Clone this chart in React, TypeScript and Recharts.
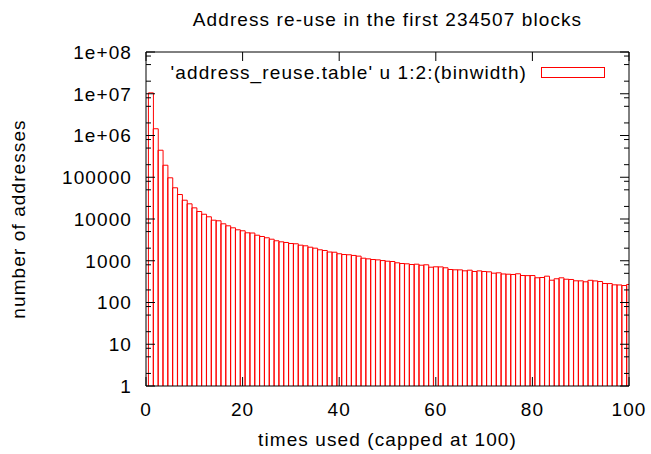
import React from "react";
import { ComposedChart, Bar, Line, XAxis, YAxis, Legend } from "recharts";

// times used (x) and number of addresses (y)
const timesUsed = [
  1, 2, 3, 4, 5, 6, 7, 8, 9, 10,
  11, 12, 13, 14, 15, 16, 17, 18, 19, 20,
  21, 22, 23, 24, 25, 26, 27, 28, 29, 30,
  31, 32, 33, 34, 35, 36, 37, 38, 39, 40,
  41, 42, 43, 44, 45, 46, 47, 48, 49, 50,
  51, 52, 53, 54, 55, 56, 57, 58, 59, 60,
  61, 62, 63, 64, 65, 66, 67, 68, 69, 70,
  71, 72, 73, 74, 75, 76, 77, 78, 79, 80,
  81, 82, 83, 84, 85, 86, 87, 88, 89, 90,
  91, 92, 93, 94, 95, 96, 97, 98, 99, 100,
];

const addressCounts = [
  10500000, 1450000, 444000, 194000, 97000, 55900, 38600, 28200, 23100, 18500,
  15100, 13000, 11300, 9360, 9060, 7670, 6870, 6150, 5510, 5220,
  4670, 4620, 4090, 3810, 3550, 3280, 3010, 2840, 2740, 2590,
  2550, 2360, 2280, 2110, 2000, 1830, 1760, 1620, 1600, 1470,
  1410, 1390, 1340, 1290, 1150, 1110, 1070, 1050, 1010, 975,
  959, 893, 859, 845, 813, 827, 782, 800, 701, 716,
  712, 678, 617, 607, 605, 574, 594, 553, 572, 553,
  543, 504, 514, 482, 476, 469, 487, 443, 440, 442,
  391, 397, 427, 342, 370, 390, 361, 356, 331, 330,
  313, 340, 329, 318, 285, 284, 265, 263, 255, 270,
];

const xTicks = [0, 20, 40, 60, 80, 100];
const yMajorTicks = [1, 10, 100, 1000, 10000, 100000, 1000000, 10000000, 100000000];
const yTickLabels = ["1", "10", "100", "1000", "10000", "100000", "1e+06", "1e+07", "1e+08"];
const yMinorSteps = [2, 5, 8];

const data = timesUsed.map((x, i) => ({ x, count: addressCounts[i] }));

const yTicks = [
  ...yMajorTicks,
  ...yMajorTicks.slice(0, -1).flatMap((m) => yMinorSteps.map((s) => m * s)),
].sort((a, b) => a - b);

const FONT = '"Liberation Sans", Arial, Helvetica, sans-serif';
const FS = 19;
const LS = "1.1px";
const MAJOR = 9;
const MINOR = 5;
const RED = "#ff0000";

function LeftTick(props: any) {
  const { x, y, payload } = props;
  const idx = yMajorTicks.indexOf(payload.value);
  const major = idx >= 0;
  return (
    <g>
      <line x1={x} x2={x + (major ? MAJOR : MINOR)} y1={y} y2={y} stroke="#000" />
      {major && (
        <text x={x - 14} y={y} dy="0.36em" textAnchor="end" fontSize={FS} letterSpacing={LS} fill="#000">
          {yTickLabels[idx]}
        </text>
      )}
    </g>
  );
}

function RightTick(props: any) {
  const { x, y, payload } = props;
  const major = yMajorTicks.indexOf(payload.value) >= 0;
  return <line x1={x} x2={x - (major ? MAJOR : MINOR)} y1={y} y2={y} stroke="#000" />;
}

function BottomTick(props: any) {
  const { x, y, payload } = props;
  return (
    <g>
      <line x1={x} x2={x} y1={y} y2={y - MAJOR} stroke="#000" />
      <text x={x} y={y + 23} dy="0.36em" textAnchor="middle" fontSize={FS} letterSpacing={LS} fill="#000">
        {payload.value}
      </text>
    </g>
  );
}

function TopTick(props: any) {
  const { x, y } = props;
  return <line x1={x} x2={x} y1={y} y2={y + MAJOR} stroke="#000" />;
}

// gnuplot style box: outline only, the bottom edge sits under the axis
function OpenBox(props: any) {
  const { x, y, width, height } = props;
  if (!width || !height) return null;
  return (
    <path
      d={`M${x},${y + height} V${y} H${x + width} V${y + height}`}
      fill="none"
      stroke={RED}
      strokeWidth={1}
    />
  );
}

function KeyBox() {
  return (
    <div style={{ position: "relative", width: 651, height: 100, fontFamily: FONT, fontSize: FS, letterSpacing: LS }}>
      <span style={{ position: "absolute", right: 651 - 527, top: 63, lineHeight: "20px", whiteSpace: "nowrap", color: "#000" }}>
        'address_reuse.table' u 1:2:(binwidth)
      </span>
      <div
        style={{
          position: "absolute",
          left: 541,
          top: 67,
          width: 64,
          height: 11,
          border: `1px solid ${RED}`,
          boxSizing: "border-box",
        }}
      />
    </div>
  );
}

export default function App() {
  return (
    <div style={{ position: "absolute", left: 0, top: 0, width: 651, height: 454, background: "#fff", fontFamily: FONT }}>
      <ComposedChart
        width={651}
        height={454}
        data={data}
        margin={{ top: 51, right: 21, bottom: 0, left: 0 }}
        barCategoryGap={0}
        barGap={0}
      >
        <XAxis
          xAxisId="bottom"
          dataKey="x"
          type="number"
          domain={[0, 100]}
          allowDataOverflow
          ticks={xTicks}
          interval={0}
          tick={<BottomTick />}
          tickLine={false}
          tickSize={0}
          tickMargin={0}
          axisLine={{ stroke: "#000" }}
          height={68}
          label={(p: any) => {
            const vb = p.viewBox;
            return (
              <text x={vb.x + vb.width / 2} y={446} textAnchor="middle" fontSize={FS} letterSpacing={LS} fill="#000">
                times used (capped at 100)
              </text>
            );
          }}
        />
        <XAxis
          xAxisId="top"
          orientation="top"
          dataKey="x"
          type="number"
          domain={[0, 100]}
          allowDataOverflow
          ticks={xTicks}
          interval={0}
          tick={<TopTick />}
          tickLine={false}
          tickSize={0}
          tickMargin={0}
          axisLine={{ stroke: "#000" }}
          height={1}
          label={(p: any) => {
            const vb = p.viewBox;
            return (
              <text x={vb.x + vb.width / 2} y={26} textAnchor="middle" fontSize={FS} letterSpacing={LS} fill="#000">
                Address re-use in the first 234507 blocks
              </text>
            );
          }}
        />
        <YAxis
          yAxisId="left"
          type="number"
          scale="log"
          domain={[1, 100000000]}
          allowDataOverflow
          ticks={yTicks}
          interval={0}
          tick={<LeftTick />}
          tickLine={false}
          tickSize={0}
          tickMargin={0}
          axisLine={{ stroke: "#000" }}
          width={146}
          label={(p: any) => {
            const vb = p.viewBox;
            const cy = vb.y + vb.height / 2;
            return (
              <text
                transform={`translate(${vb.x + 18}, ${cy}) rotate(-90)`}
                dy="0.36em"
                textAnchor="middle"
                fontSize={FS}
                letterSpacing={LS}
                fill="#000"
              >
                number of addresses
              </text>
            );
          }}
        />
        <YAxis
          yAxisId="right"
          orientation="right"
          type="number"
          scale="log"
          domain={[1, 100000000]}
          allowDataOverflow
          ticks={yTicks}
          interval={0}
          tick={<RightTick />}
          tickLine={false}
          tickSize={0}
          tickMargin={0}
          axisLine={{ stroke: "#000" }}
          width={1}
        />
        <Legend
          layout="vertical"
          align="center"
          verticalAlign="middle"
          wrapperStyle={{ left: 0, top: 0, width: 651, height: 100 }}
          content={() => <KeyBox />}
        />
        <Bar
          xAxisId="bottom"
          yAxisId="left"
          dataKey="count"
          fill="none"
          stroke={RED}
          shape={<OpenBox />}
          isAnimationActive={false}
        />
        {/* invisible series so the mirrored top/right axes get drawn */}
        <Line
          xAxisId="top"
          yAxisId="right"
          dataKey="count"
          stroke="none"
          dot={false}
          activeDot={false}
          legendType="none"
          isAnimationActive={false}
        />
      </ComposedChart>
    </div>
  );
}
